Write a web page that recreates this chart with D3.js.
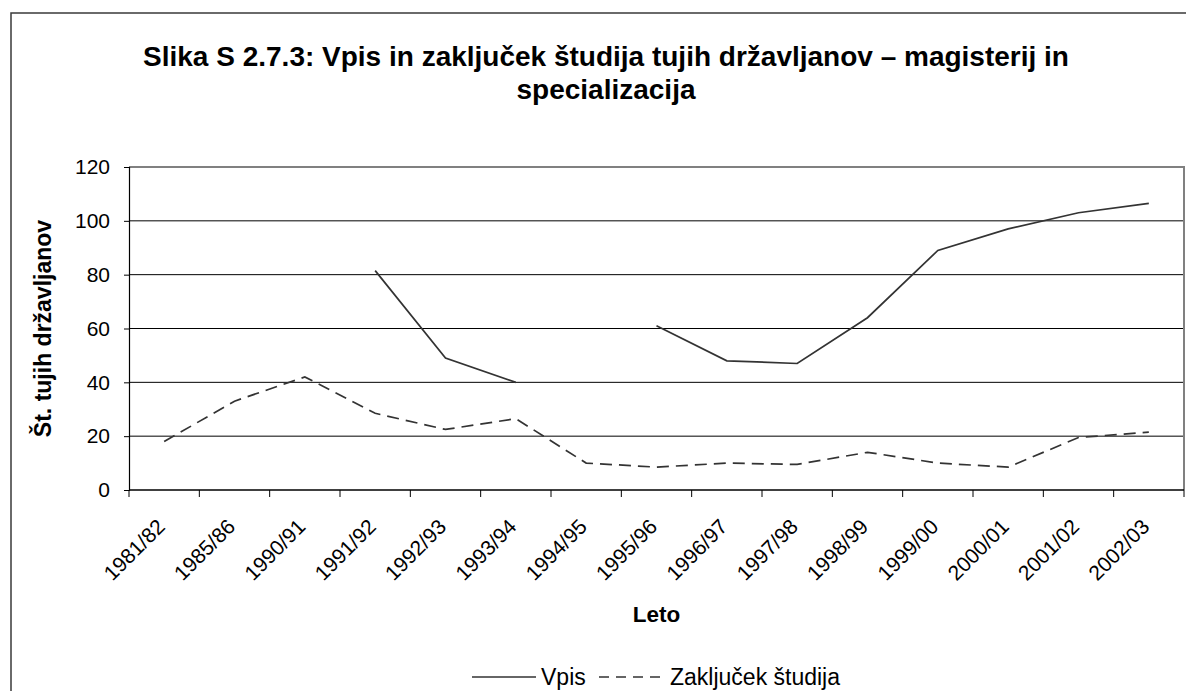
<!DOCTYPE html>
<html>
<head>
<meta charset="utf-8">
<script src="https://cdn.jsdelivr.net/npm/d3@7"></script>
<style>
  html, body { margin: 0; padding: 0; background: #fff; }
  svg { display: block; font-family: "Liberation Sans", Arial, sans-serif; }
</style>
</head>
<body>
<svg id="chart" width="1186" height="691"></svg>
<script>
// Academic years on the category axis
const categories = ["1981/82", "1985/86", "1990/91", "1991/92", "1992/93", "1993/94", "1994/95",
  "1995/96", "1996/97", "1997/98", "1998/99", "1999/00", "2000/01", "2001/02", "2002/03"];

// Enrolment (Vpis); null = no data for that year
const vpis = [null, null, null, 81.5, 49, 40, null, 61, 48, 47, 64, 89, 97, 103, 106.5];

// Completed studies (Zaključek študija)
const zakljucek = [18, 33, 42, 28.5, 22.5, 26.5, 10, 8.5, 10, 9.5, 14, 10, 8.5, 19.5, 21.5];

const yTicks = [0, 20, 40, 60, 80, 100, 120];

const titleLines = ["Slika S 2.7.3: Vpis in zaključek študija tujih državljanov – magisterij in",
  "specializacija"];
const yTitle = "Št. tujih državljanov";
const xTitle = "Leto";
const seriesNames = ["Vpis", "Zaključek študija"];

const svg = d3.select("#chart");
const plot = { left: 129, right: 1184, top: 167, bottom: 490 };

// Outer chart frame (continues past the visible canvas)
svg.append("rect")
  .attr("x", 11).attr("y", 13).attr("width", 1400).attr("height", 900)
  .attr("fill", "#fff").attr("stroke", "#3a3a3a").attr("stroke-width", 1.5);

const x = d3.scaleBand().domain(categories).range([plot.left, plot.right]);
const y = d3.scaleLinear().domain([0, 120]).range([plot.bottom, plot.top]);
const cx = c => x(c) + x.bandwidth() / 2;

// Horizontal gridlines
svg.append("g").selectAll("line")
  .data(yTicks.filter(v => v > 0 && v < 120))
  .join("line")
  .attr("x1", plot.left).attr("x2", plot.right)
  .attr("y1", d => y(d)).attr("y2", d => y(d))
  .attr("stroke", "#000").attr("stroke-width", 1);

// Plot-area border (top and right) in grey
svg.append("path")
  .attr("d", `M${plot.left},${y(120)}H${plot.right}V${plot.bottom}`)
  .attr("fill", "none").attr("stroke", "#808080").attr("stroke-width", 2);

// Y axis
const yAxis = d3.axisLeft(y).tickValues(yTicks).tickSize(5).tickPadding(14).tickFormat(d3.format("d"));
const gy = svg.append("g").attr("transform", `translate(${plot.left},0)`).call(yAxis);
gy.select(".domain").attr("stroke", "#000").attr("stroke-width", 1.2);
gy.selectAll(".tick line").attr("stroke", "#000");
gy.selectAll(".tick text").attr("font-size", 21).attr("fill", "#000")
  .attr("font-family", "Liberation Sans, Arial, sans-serif");

// X axis: baseline, boundary ticks, rotated labels at category centres
const gx = svg.append("g");
gx.append("line")
  .attr("x1", plot.left).attr("x2", plot.right)
  .attr("y1", plot.bottom).attr("y2", plot.bottom)
  .attr("stroke", "#000").attr("stroke-width", 1.5);
const boundaries = categories.map(c => x(c)).concat([plot.right]);
gx.selectAll("line.tk").data(boundaries).join("line").attr("class", "tk")
  .attr("x1", d => d).attr("x2", d => d)
  .attr("y1", plot.bottom).attr("y2", plot.bottom + 7)
  .attr("stroke", "#000");
gx.selectAll("text").data(categories).join("text")
  .attr("transform", d => `translate(${cx(d) + 2},${plot.bottom + 38}) rotate(-45)`)
  .attr("text-anchor", "end")
  .attr("font-size", 21)
  .attr("fill", "#000")
  .text(d => d);

// Series lines
const line = d3.line()
  .defined(d => d != null)
  .x((d, i) => cx(categories[i]))
  .y(d => y(d));

svg.append("path").datum(vpis)
  .attr("d", line)
  .attr("fill", "none").attr("stroke", "#333").attr("stroke-width", 1.7);

svg.append("path").datum(zakljucek)
  .attr("d", line)
  .attr("fill", "none").attr("stroke", "#333").attr("stroke-width", 1.7)
  .attr("stroke-dasharray", "12,7");

// Chart title (two lines)
svg.append("text")
  .attr("x", 606).attr("y", 66)
  .attr("text-anchor", "middle")
  .attr("font-size", 28).attr("font-weight", "bold")
  .text(titleLines[0]);
svg.append("text")
  .attr("x", 606).attr("y", 99)
  .attr("text-anchor", "middle")
  .attr("font-size", 28).attr("font-weight", "bold")
  .text(titleLines[1]);

// Axis titles
svg.append("text")
  .attr("transform", `translate(43,${(plot.top + plot.bottom) / 2}) rotate(-90)`)
  .attr("text-anchor", "middle").attr("dy", "0.35em")
  .attr("font-size", 23).attr("font-weight", "bold")
  .text(yTitle);

svg.append("text")
  .attr("x", (plot.left + plot.right) / 2).attr("y", 622)
  .attr("text-anchor", "middle")
  .attr("font-size", 22.5).attr("font-weight", "bold")
  .text(xTitle);

// Legend
const legY = 677;
const lg = svg.append("g");
lg.append("line").attr("x1", 472).attr("x2", 536).attr("y1", legY).attr("y2", legY)
  .attr("stroke", "#333").attr("stroke-width", 1.7);
lg.append("text").attr("x", 541).attr("y", legY).attr("dy", "0.35em")
  .attr("font-size", 23).text(seriesNames[0]);
lg.append("line").attr("x1", 599).attr("x2", 666).attr("y1", legY).attr("y2", legY)
  .attr("stroke", "#333").attr("stroke-width", 1.7).attr("stroke-dasharray", "10,7");
lg.append("text").attr("x", 670).attr("y", legY).attr("dy", "0.35em")
  .attr("font-size", 23).text(seriesNames[1]);
</script>
</body>
</html>
